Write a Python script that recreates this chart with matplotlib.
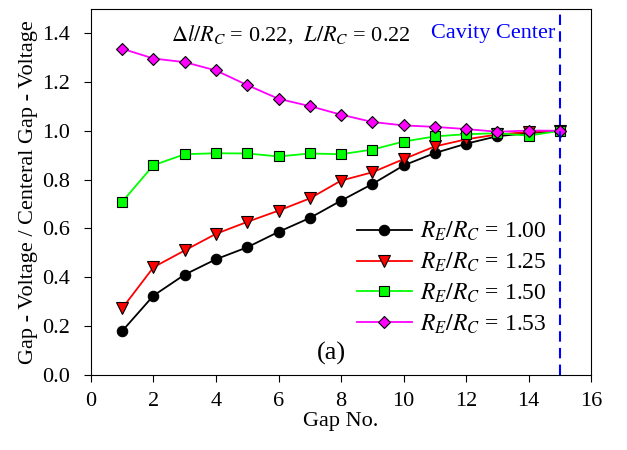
import numpy as np
import matplotlib
matplotlib.use('Agg')
import matplotlib.pyplot as plt

plt.rcParams['font.family'] = ['Liberation Serif', 'DejaVu Serif']
plt.rcParams['mathtext.fontset'] = 'stix'

# dados
gap = [1, 2, 3, 4, 5, 6, 7, 8, 9, 10, 11, 12, 13, 14, 15]
re_100 = [0.18, 0.325, 0.411, 0.474, 0.523, 0.586, 0.643, 0.714, 0.782, 0.858, 0.909, 0.947, 0.978, 0.99, 1.0]
re_125 = [0.273, 0.441, 0.51, 0.578, 0.627, 0.673, 0.723, 0.796, 0.83, 0.884, 0.936, 0.965, 0.985, 0.995, 1.0]
re_150 = [0.709, 0.859, 0.904, 0.908, 0.907, 0.895, 0.907, 0.904, 0.923, 0.956, 0.977, 0.986, 0.99, 0.98, 1.0]
re_153 = [1.336, 1.296, 1.281, 1.247, 1.187, 1.131, 1.101, 1.066, 1.036, 1.022, 1.016, 1.007, 0.996, 1.001, 1.0]
labels = ['1.00', '1.25', '1.50', '1.53']

fig = plt.figure(figsize=(6.27, 4.5), dpi=100)
ax = fig.add_axes([0.145, 0.1667, 0.798, 0.814])

estilos = [
    (re_100, 'black', 'o', 'black', 7.5),
    (re_125, 'red', 'v', 'red', 8),
    (re_150, '#00ff00', 's', '#00ff00', 7),
    (re_153, '#ff00ff', 'D', '#ff00ff', 6.5),
]
for (vals, cor, mk, fc, ms), lab in zip(estilos, labels):
    ax.plot(gap, vals, color=cor, lw=1.3, marker=mk, markerfacecolor=fc,
            markeredgecolor='black', markeredgewidth=0.8, markersize=ms,
            label=r'$R_E/R_C$' + ' = ' + lab)

ax.axvline(15, color='blue', ls='--', lw=1.5, dashes=(5, 3))

ax.set_xlim(0, 16)
ax.set_ylim(0, 1.5)
ax.set_xticks(range(0, 17, 2))
ax.set_yticks(np.arange(0, 1.41, 0.2))
ax.yaxis.set_major_formatter(matplotlib.ticker.FormatStrFormatter('%.1f'))
ax.tick_params(axis='both', labelsize=16, direction='out', length=5, top=False, right=False)
ax.tick_params(axis='x', pad=7)
ax.tick_params(axis='y', pad=10)
ax.set_xlabel('Gap No.', fontsize=16, labelpad=1)
ax.set_ylabel('Gap - Voltage / Centeral Gap - Voltage', fontsize=16, labelpad=3)

ax.text(0.40, 0.93, r'$\Delta l/R_C$ = 0.22,  $L/R_C$ = 0.22', transform=ax.transAxes,
        fontsize=16, ha='center', va='center')
ax.text(14.85, 1.4, 'Cavity Center', color='blue', fontsize=16, ha='right', va='center')
ax.text(0.48, 0.06, '(a)', transform=ax.transAxes, fontsize=19, ha='center', va='center')

leg = ax.legend(loc='center left', bbox_to_anchor=(0.49, 0.265), frameon=False,
                fontsize=17, handlelength=2.3, labelspacing=0.32, handletextpad=0.35)

fig.savefig('out.png', dpi=100)
